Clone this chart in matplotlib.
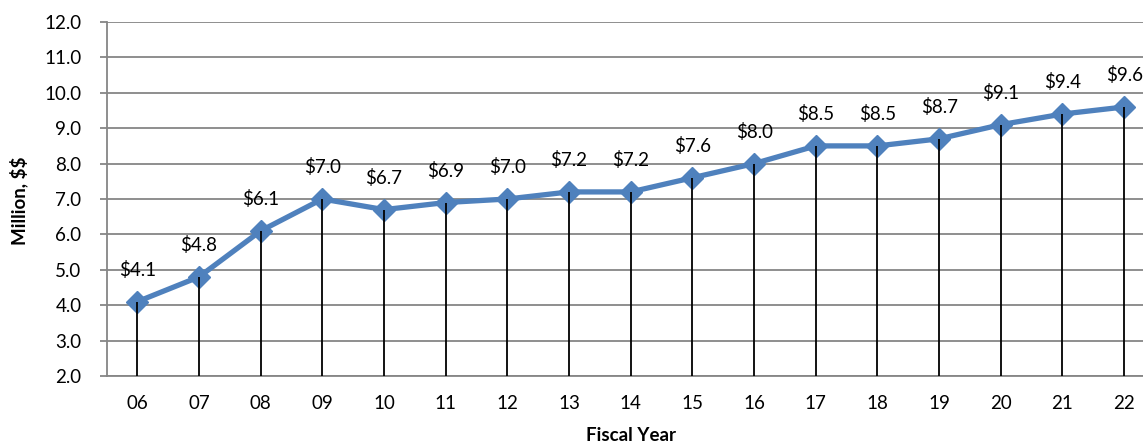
import matplotlib
matplotlib.use("Agg")
import matplotlib.pyplot as plt

years = ["06", "07", "08", "09", "10", "11", "12", "13", "14", "15", "16", "17", "18", "19", "20", "21", "22"]
funding = [4.1, 4.8, 6.1, 7.0, 6.7, 6.9, 7.0, 7.2, 7.2, 7.6, 8.0, 8.5, 8.5, 8.7, 9.1, 9.4, 9.6]
y_ticks = [2.0, 3.0, 4.0, 5.0, 6.0, 7.0, 8.0, 9.0, 10.0, 11.0, 12.0]

plt.rcParams["font.family"] = ["Lato", "DejaVu Sans"]
plt.rcParams["text.parse_math"] = False

W, H = 1143, 444
left_px, right_px, top_px, bottom_px = 106.5, 1155, 22, 376
fig = plt.figure(figsize=(W / 100, H / 100), dpi=100)
ax = fig.add_axes([left_px / W, 1 - bottom_px / H, (right_px - left_px) / W, (bottom_px - top_px) / H])

x = list(range(len(years)))
line_color = "#4F81BD"
grid_color = "#868686"

ax.plot(x, funding, color=line_color, lw=3.8, marker="D", ms=11,
        markerfacecolor=line_color, markeredgecolor=line_color, zorder=3,
        solid_joinstyle="round")
ax.vlines(x, y_ticks[0], funding, color="black", lw=1.3, zorder=4)

for xi, v in zip(x, funding):
    ax.annotate(f"${v:.1f}", (xi, v), xytext=(0, 23), textcoords="offset points",
                ha="center", va="center", fontsize=13.5, color="black")

ax.set_xlim(-0.5, len(years) - 0.5)
ax.set_ylim(y_ticks[0], y_ticks[-1])
ax.set_xticks(x)
ax.set_xticklabels(years)
ax.set_yticks(y_ticks)
ax.set_yticklabels([f"{t:.1f}" for t in y_ticks])

ax.yaxis.grid(True, color=grid_color, lw=1.3, zorder=0)
ax.set_axisbelow(True)
for side in ["top", "right"]:
    ax.spines[side].set_visible(False)
for side in ["left", "bottom"]:
    ax.spines[side].set_color(grid_color)
    ax.spines[side].set_linewidth(1.3)

ax.tick_params(axis="y", length=5, width=1.3, color=grid_color, pad=13, labelsize=13.5)
ax.tick_params(axis="x", length=0, pad=14, labelsize=13.5)

ax.set_ylabel("Million, $$", fontsize=13.5, fontweight="bold")
ax.set_xlabel("Fiscal Year", fontsize=13.5, fontweight="bold")
ax.yaxis.set_label_coords((28 - left_px) / (right_px - left_px), (bottom_px - 201) / (bottom_px - top_px))
ax.xaxis.set_label_coords((631 - left_px) / (right_px - left_px), -(427 - bottom_px) / (bottom_px - top_px))

fig.savefig("out.png", dpi=100)
